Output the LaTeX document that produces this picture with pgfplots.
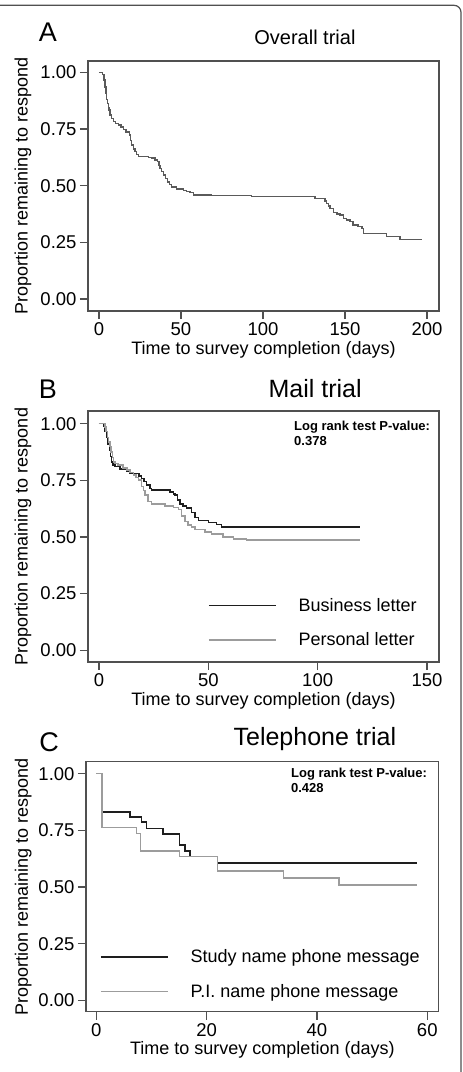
\documentclass[border=0pt]{standalone}
\usepackage{fontspec}
\setmainfont{Liberation Sans}
\usepackage{pgfplots}
\pgfplotsset{compat=1.18}
\definecolor{axisgray}{HTML}{505050}
\definecolor{curveA}{HTML}{5A5A5A}
\definecolor{dark}{HTML}{1E1E1E}
\definecolor{light}{HTML}{9C9C9C}
\pgfplotsset{
  km/.style={
    scale only axis,
    axis line style={color=axisgray, line width=1.2bp},
    tick style={color=axisgray, line width=1.2bp},
    tick align=outside,
    major tick length=8bp,
    xtick pos=bottom, ytick pos=left,
    ytick={0,0.25,0.5,0.75,1},
    /pgf/number format/assume math mode=true,
    yticklabel style={/pgf/number format/.cd, fixed, fixed zerofill, precision=2},
    xticklabel style={/pgf/number format/.cd, fixed, precision=0},
    ticklabel style={font=\fontsize{18.5bp}{20bp}\selectfont, color=black},
    label style={font=\fontsize{18bp}{20bp}\selectfont, color=black},
    xlabel={Time to survey completion (days)},
    ylabel={Proportion remaining to respond},
    ylabel style={anchor=center},
    xlabel style={anchor=center},
    title style={anchor=center},
    legend cell align=left,
    legend image code/.code={\draw[#1] (0bp,0bp) -- (67bp,0bp);},
  },
  kmleg/.style={
    legend style={draw=none, fill=none, anchor=north west, inner sep=0pt, outer sep=0pt,
      row sep=16bp, font=\fontsize{18bp}{20bp}\selectfont,
      /tikz/every odd column/.append style={column sep=20bp}},
  }
}
\begin{document}
\begin{tikzpicture}
\useasboundingbox (0,0) rectangle (463bp,-1072bp);
\draw[axisgray, line width=1.2bp, rounded corners=7bp] (-5bp,-5.3bp) -- (461bp,-5.3bp) -- (461bp,-1080bp);

\node[font=\fontsize{27bp}{29bp}\selectfont] at (48bp,-32bp) {A};
\node[font=\fontsize{27bp}{29bp}\selectfont] at (48bp,-389.5bp) {B};
\node[font=\fontsize{27bp}{29bp}\selectfont] at (49bp,-742bp) {C};

% Panel A
\begin{axis}[km, at={(88bp,-311bp)}, anchor=south west, width=351bp, height=250bp,
  xmin=-6.7, xmax=207.3, ymin=-0.053, ymax=1.05, xtick={0,50,100,150,200},
  ylabel style={at={(axis description cs:-0.185,0.5)}},
  xlabel style={at={(axis description cs:0.5,-0.156)}},
  title={Overall trial},
  title style={at={(axis description cs:0.618,1.072)}, font=\fontsize{20bp}{22bp}\selectfont}]
\addplot[const plot, color=curveA, line width=1.5bp] coordinates {
(0,1.000) (2,0.990) (3,0.966) (3.7,0.935) (4.2,0.907) (4.7,0.880) (5.2,0.863)
(5.7,0.845) (6.2,0.834) (6.7,0.812) (7.7,0.797) (8.7,0.782) (10,0.775) (11.8,0.768)
(13.3,0.758) (14.8,0.748) (16.5,0.737) (18.5,0.723) (19.3,0.700) (19.9,0.679)
(21,0.662) (22,0.650) (23,0.638) (24,0.628) (30.1,0.625) (32.1,0.621) (34,0.614)
(35.6,0.606) (36.5,0.590) (37.2,0.576) (38.2,0.562) (39.2,0.547) (40.5,0.532)
(41.7,0.517) (43,0.505) (44.3,0.495) (47.4,0.485) (51.4,0.478) (53.5,0.474)
(55.5,0.469) (57.5,0.459) (68.7,0.456) (93.1,0.453) (131.7,0.444) (137.8,0.433)
(138.8,0.422) (140,0.411) (140.9,0.400) (142.9,0.382) (145,0.376) (147,0.371)
(149,0.356) (151,0.348) (153,0.341) (155,0.326) (158,0.319) (160.2,0.312)
(161.2,0.290) (175.4,0.275) (183.5,0.263) (196.8,0.263)};
\end{axis}

% Panel B
\begin{axis}[km, kmleg, at={(88bp,-662bp)}, anchor=south west, width=351bp, height=251bp,
  xmin=-5.03, xmax=155.5, ymin=-0.052, ymax=1.056, xtick={0,50,100,150},
  ylabel style={at={(axis description cs:-0.185,0.5)}},
  xlabel style={at={(axis description cs:0.5,-0.155)}},
  title={Mail trial},
  title style={at={(axis description cs:0.647,1.064)}, font=\fontsize{25bp}{27bp}\selectfont},
  legend style={at={(axis description cs:0.342,0.262)}}]
\addplot[const plot, color=dark, line width=1.5bp] coordinates {
(0,1.000) (2,0.987) (2.8,0.965) (3.5,0.940) (4.1,0.910) (4.7,0.884) (5.3,0.855)
(5.8,0.832) (6.5,0.818) (7.3,0.810) (9.6,0.799) (12.7,0.788) (14.2,0.781)
(18.4,0.770) (19.5,0.759) (20.5,0.745) (21.8,0.729) (23.3,0.715) (24.1,0.707)
(32.5,0.699) (34,0.690) (34.8,0.685) (35.8,0.663) (37,0.646) (38.5,0.636)
(40.1,0.627) (42.4,0.607) (43.9,0.587) (45.4,0.572) (50,0.563) (53.8,0.556)
(56.1,0.543) (119.3,0.543)};
\addlegendentry{Business letter}
\addplot[const plot, color=light, line width=1.5bp] coordinates {
(0,1.000) (2.7,0.985) (3.3,0.965) (3.8,0.940) (4.4,0.920) (5,0.900) (5.6,0.875)
(6.2,0.850) (6.6,0.832) (7.3,0.825) (8.8,0.818) (11,0.805) (12.7,0.796)
(14.2,0.785) (15.7,0.774) (17,0.762) (18,0.751) (19.5,0.722) (20.3,0.705)
(21,0.685) (22.5,0.656) (24.1,0.646) (30.2,0.637) (34,0.631) (36.3,0.622)
(37.8,0.593) (39.3,0.568) (40.8,0.553) (42.3,0.543) (43.9,0.534) (48.5,0.523)
(51.5,0.513) (56.8,0.499) (61.4,0.492) (67.5,0.487) (119.3,0.487)};
\addlegendentry{Personal letter}
\node[anchor=base west, font=\bfseries\fontsize{13bp}{15bp}\selectfont, inner sep=0pt] at (axis description cs:0.587,0.9215) {Log rank test P-value:};
\node[anchor=base west, font=\bfseries\fontsize{13bp}{15bp}\selectfont, inner sep=0pt] at (axis description cs:0.587,0.863) {0.378};
\end{axis}

% Panel C
\begin{axis}[km, kmleg, at={(86bp,-1011.7bp)}, anchor=south west, width=352.7bp, height=250bp,
  xmin=-1.87, xmax=62.07, ymin=-0.050, ymax=1.053, xtick={0,20,40,60},
  ylabel style={at={(axis description cs:-0.178,0.5)}},
  xlabel style={at={(axis description cs:0.5,-0.152)}},
  title={Telephone trial},
  title style={at={(axis description cs:0.649,1.067)}, font=\fontsize{25bp}{27bp}\selectfont},
  legend style={at={(axis description cs:0.040,0.256)}}]
\addplot[const plot, color=dark, line width=1.5bp] coordinates {
(0,1.000) (1,0.832) (6.1,0.810) (8.2,0.788) (9.1,0.759) (12.1,0.734) (15.1,0.685)
(16.1,0.660) (17.0,0.634) (22.0,0.607) (58.1,0.607)};
\addlegendentry{Study name phone message}
\addplot[const plot, color=light, line width=1.5bp] coordinates {
(0,1.000) (1,0.762) (7.3,0.737) (8.0,0.660) (15.1,0.634) (22.0,0.571) (33.9,0.541)
(44.0,0.509) (58.1,0.509)};
\addlegendentry{P.I. name phone message}
\node[anchor=base west, font=\bfseries\fontsize{13bp}{15bp}\selectfont, inner sep=0pt] at (axis description cs:0.581,0.937) {Log rank test P-value:};
\node[anchor=base west, font=\bfseries\fontsize{13bp}{15bp}\selectfont, inner sep=0pt] at (axis description cs:0.581,0.875) {0.428};
\end{axis}
\end{tikzpicture}
\end{document}
